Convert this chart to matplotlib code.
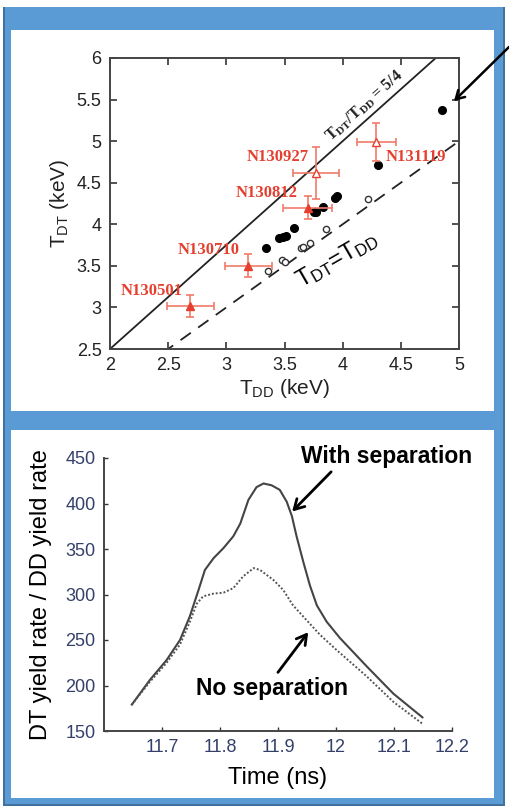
import matplotlib
matplotlib.use("Agg")
import matplotlib.pyplot as plt
from matplotlib.patches import Rectangle, FancyArrowPatch

W, H = 510, 807
FRAME = "#5b9bd5"
FRAME_DARK = "#41719c"
RED = "#e5402f"
ERR = "#f07a68"
TICK_BLUE = "#34406a"

plt.rcParams.update({
    "font.family": "Liberation Sans",
    "mathtext.default": "regular",
    "axes.linewidth": 1.4,
})

# ---- T_DT vs T_DD data ----
shots = ["N130501", "N130710", "N130812", "N130927", "N131119"]
shot_dd = [2.69, 3.19, 3.70, 3.77, 4.29]
shot_dt = [3.02, 3.50, 4.20, 4.62, 4.99]
shot_dd_err = [0.20, 0.20, 0.21, 0.20, 0.17]
shot_dt_err = [0.13, 0.14, 0.14, 0.31, 0.23]
shot_filled = [True, True, True, False, False]
label_x = [2.36, 2.85, 3.35, 3.44, 4.63]
label_y = [3.20, 3.69, 4.38, 4.81, 4.81]

sim_dd = [3.34, 3.45, 3.49, 3.51, 3.58, 3.75, 3.77, 3.83, 3.93, 3.95, 4.30, 4.85]
sim_dt = [3.72, 3.84, 3.85, 3.86, 3.96, 4.15, 4.15, 4.21, 4.32, 4.34, 4.71, 5.37]
nosep_dd = [3.36, 3.48, 3.50, 3.64, 3.66, 3.72, 3.86, 4.22]
nosep_dt = [3.44, 3.57, 3.55, 3.72, 3.73, 3.78, 3.94, 4.31]

line_x = [2.0, 5.0]

# ---- yield-rate ratio vs time ----
sep_t = [11.648, 11.679, 11.708, 11.731, 11.748, 11.763, 11.774, 11.789, 11.806,
         11.823, 11.835, 11.849, 11.863, 11.875, 11.889, 11.903, 11.915, 11.924,
         11.932, 11.944, 11.955, 11.967, 11.984, 12.007, 12.053, 12.099, 12.149]
sep_v = [179, 206, 228, 250, 276, 305, 327, 340, 351,
         364, 378, 404, 418, 422, 420, 415, 402, 386,
         364, 335, 310, 288, 270, 252, 221, 191, 165]
nosep_t = [11.648, 11.679, 11.708, 11.731, 11.748, 11.760, 11.771, 11.789, 11.806,
           11.823, 11.840, 11.858, 11.869, 11.892, 11.909, 11.926, 11.949, 11.972,
           12.001, 12.053, 12.099, 12.149]
nosep_v = [179, 204, 225, 245, 270, 290, 298, 301, 302,
           307, 320, 329, 327, 316, 305, 288, 272, 256,
           239, 210, 182, 158]


def fbox(x0, y0, x1, y1):
    # pixel box (top-left origin) -> figure fraction rect
    return (x0 / W, 1 - y1 / H), (x1 - x0) / W, (y1 - y0) / H


fig = plt.figure(figsize=(W / 100, H / 100), dpi=100, facecolor="white")

# blue frame with two white panels
for (x0, y0, x1, y1), c in [((3, 7, 505, 806), FRAME_DARK),
                            ((5, 7, 503, 804), FRAME),
                            ((11, 30, 494, 411), "white"),
                            ((11, 430, 494, 798), "white")]:
    xy, w, h = fbox(x0, y0, x1, y1)
    fig.add_artist(Rectangle(xy, w, h, transform=fig.transFigure,
                             facecolor=c, edgecolor="none", zorder=0))

# ---- top panel ----
xy, w, h = fbox(110, 58, 459, 349)
ax1 = fig.add_axes([xy[0], xy[1], w, h])
ax1.plot(line_x, [1.25 * v for v in line_x], color="#222", lw=1.3)
ax1.plot(line_x, line_x, color="#222", lw=1.3, ls=(0, (7, 5)))
ax1.plot(sim_dd, sim_dt, "o", color="black", ms=5.5)
ax1.plot(nosep_dd, nosep_dt, "o", mfc="white", mec="#333", ms=4.5, mew=1)
for x, y, ex, ey, filled, name, lx, ly in zip(shot_dd, shot_dt, shot_dd_err, shot_dt_err,
                                              shot_filled, shots, label_x, label_y):
    ax1.errorbar(x, y, xerr=ex, yerr=ey, fmt="none", ecolor=ERR, elinewidth=1.2,
                 capsize=3, capthick=1.2)
    ax1.plot(x, y, "^", ms=6, mec=RED, mfc=RED if filled else "white", mew=1)
    ax1.text(lx, ly, name, color=RED, family="Liberation Serif", weight="bold",
             fontsize=12, ha="center", va="center")
ax1.text(4.19, 5.42, "T$_{DT}$/T$_{DD}$ = 5/4", family="Liberation Serif", weight="bold",
         fontsize=11.5, rotation=41.8, ha="center", va="center", color="#222")
ax1.text(3.95, 3.58, "T$_{DT}$=T$_{DD}$", fontsize=17, rotation=30,
         ha="center", va="center", color="black")
ax1.set_xlim(2, 5)
ax1.set_ylim(2.5, 6)
ax1.set_xticks([2, 2.5, 3, 3.5, 4, 4.5, 5])
ax1.set_xticklabels(["2", "2.5", "3", "3.5", "4", "4.5", "5"])
ax1.set_yticks([2.5, 3, 3.5, 4, 4.5, 5, 5.5, 6])
ax1.set_yticklabels(["2.5", "3", "3.5", "4", "4.5", "5", "5.5", "6"])
ax1.tick_params(direction="in", length=5, width=1.2, top=True, right=True,
                labelsize=13, colors="#333", labelcolor="#222", pad=6)
for s in ax1.spines.values():
    s.set_color("#444")
ax1.set_xlabel("T$_{DD}$ (keV)", fontsize=15, color="#222", labelpad=2)
ax1.set_ylabel("T$_{DT}$ (keV)", fontsize=15, color="#222", labelpad=4)

# arrow pointing at the highest-temperature point
fig.add_artist(FancyArrowPatch((511 / W, 1 - 45 / H), (452 / W, 1 - 103 / H),
                               transform=fig.transFigure, arrowstyle="->,head_length=6,head_width=3.5",
                               color="black", lw=1.8))

# ---- bottom panel ----
xy, w, h = fbox(104, 458, 452, 731)
ax2 = fig.add_axes([xy[0], xy[1], w, h])
ax2.plot(sep_t, sep_v, color="#444", lw=1.5, solid_joinstyle="round")
ax2.plot(nosep_t, nosep_v, color="#555", lw=1.4, ls=(0, (1, 1)))
ax2.set_xlim(11.6, 12.2)
ax2.set_ylim(150, 450)
ax2.set_xticks([11.7, 11.8, 11.9, 12.0, 12.1, 12.2])
ax2.set_xticklabels(["11.7", "11.8", "11.9", "12", "12.1", "12.2"])
ax2.set_yticks([150, 200, 250, 300, 350, 400, 450])
for side in ("top", "right"):
    ax2.spines[side].set_visible(False)
for s in ("left", "bottom"):
    ax2.spines[s].set_color("#444")
ax2.tick_params(direction="in", length=3, width=1, labelsize=13,
                colors="#333", labelcolor=TICK_BLUE, pad=6)
ax2.set_xlabel("Time (ns)", fontsize=17, labelpad=8)
ax2.set_ylabel("DT yield rate / DD yield rate", fontsize=17, labelpad=10)

arrow = dict(arrowstyle="->,head_length=0.7,head_width=0.4", color="black", lw=2)
ax2.text(12.088, 452, "With separation", fontsize=16.5, weight="bold",
         ha="center", va="center")
ax2.annotate("", xy=(11.921, 389), xytext=(11.995, 437), arrowprops=arrow,
             annotation_clip=False)
ax2.text(11.89, 197, "No separation", fontsize=16.5, weight="bold",
         ha="center", va="center")
ax2.annotate("", xy=(11.955, 261), xytext=(11.897, 212), arrowprops=arrow)

fig.savefig("out.png", dpi=100, facecolor="white")
